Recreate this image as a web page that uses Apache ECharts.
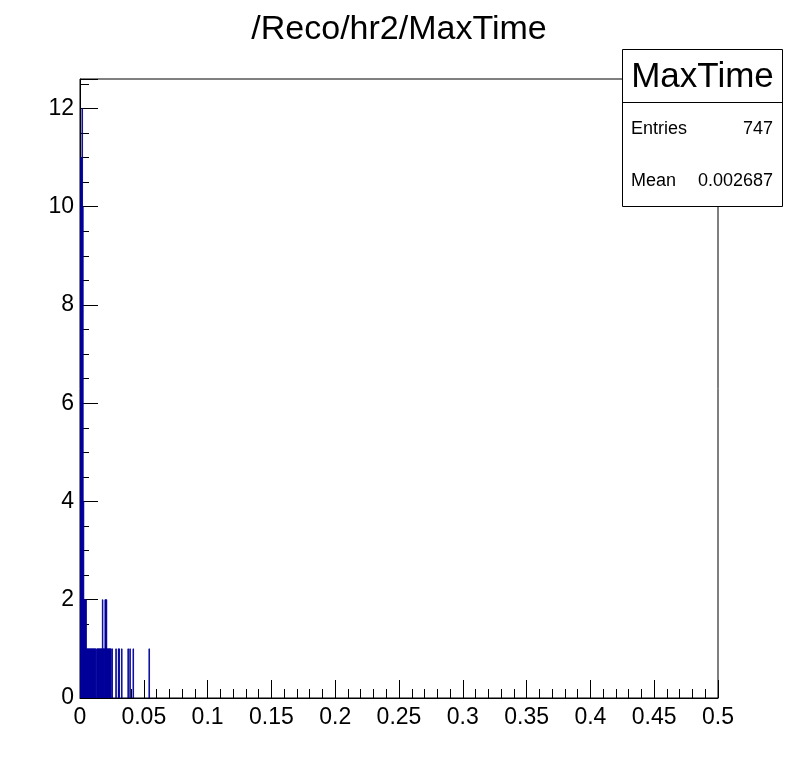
<!DOCTYPE html>
<html>
<head>
<meta charset="utf-8">
<script src="https://cdn.jsdelivr.net/npm/echarts@6/dist/echarts.min.js"></script>
<style>
html,body{margin:0;padding:0;background:#fff;}
#chart{width:798px;height:776px;}
</style>
</head>
<body>
<div id="chart"></div>
<script>
// ---- data ----
const titleText = '/Reco/hr2/MaxTime';
const histName = 'MaxTime';
const statLabels = ['Entries', 'Mean'];
const statValues = ['747', '0.002687'];
const binWidth = 0.0005;          // histogram bin width (x units)
// non-empty bins: index (from x = 0) and count
const binIndex = [0, 1, 2, 3, 4, 5, 6, 7, 8, 9,
  10, 11, 12, 13, 14, 15, 16, 17, 18, 19, 20, 21, 22, 23, 24,
  26, 27, 28, 29, 30, 31, 32, 33, 34, 35, 36, 37, 38, 39, 40, 41,
  42, 43, 44, 45, 46, 47, 48, 50, 56, 60, 61, 65, 75, 78, 83, 108];
const binCount = [10, 11, 11, 12, 10, 4, 2, 2, 2, 2,
  1, 1, 1, 1, 1, 1, 1, 1, 1, 1, 1, 1, 1, 1, 1,
  1, 1, 1, 1, 1, 1, 1, 1, 1, 2, 1, 1, 1, 2, 2, 2,
  1, 1, 1, 1, 1, 1, 1, 1, 1, 1, 1, 1, 1, 1, 1, 1];
const xMin = 0, xMax = 0.5, xStep = 0.05;
const yMin = 0, yMax = 12.6, yStep = 2, yMinorStep = 0.5;

// ---- build ----
const histData = binIndex.map((b, i) => [b * binWidth, (b + 1) * binWidth, binCount[i]]);
const FONT = 'Liberation Sans, Arial, Helvetica, sans-serif';
const BLUE = '#000099';

const chart = echarts.init(document.getElementById('chart'), null, {renderer: 'canvas'});

const gridL = 80, gridR = 80, gridT = 79, gridB = 78;
const boxX = 622.5, boxY = 49.5, boxW = 160, boxH = 157, sepY = 102.5;

chart.setOption({
  animation: false,
  backgroundColor: '#fff',
  title: {
    text: titleText, left: 'center', top: 8,
    textStyle: {fontFamily: FONT, fontSize: 34, fontWeight: 'normal', color: '#000'}
  },
  grid: {left: gridL, right: gridR, top: gridT, bottom: gridB, show: true,
         borderColor: '#000', borderWidth: 1, backgroundColor: 'transparent'},
  xAxis: {
    type: 'value', min: xMin, max: xMax, interval: xStep,
    axisLine: {show: true, lineStyle: {color: '#000', width: 1}},
    axisTick: {show: true, inside: true, length: 18, lineStyle: {color: '#000'}},
    minorTick: {show: true, splitNumber: 5, length: 9, lineStyle: {color: '#000'}},
    splitLine: {show: false},
    axisLabel: {fontFamily: FONT, fontSize: 23, color: '#000', margin: 8,
      formatter: v => String(Math.round(v * 1000) / 1000)}
  },
  yAxis: [{
    type: 'value', min: yMin, max: yMax, interval: yMinorStep, position: 'left',
    axisLine: {show: true, lineStyle: {color: '#000', width: 1}},
    axisTick: {show: true, inside: true, length: 9, lineStyle: {color: '#000'}},
    axisLabel: {show: false},
    splitLine: {show: false}
  }, {
    type: 'value', min: yMin, max: yMax, interval: yStep, position: 'left', offset: 0,
    axisLine: {show: false},
    axisTick: {show: true, inside: true, length: 18, lineStyle: {color: '#000'}},
    axisLabel: {fontFamily: FONT, fontSize: 23, color: '#000', margin: 6,
      formatter: v => (Math.abs(v / yStep - Math.round(v / yStep)) < 1e-9 ? String(v) : '')},
    splitLine: {show: false}
  }],
  series: [{
    type: 'custom',
    xAxisIndex: 0, yAxisIndex: 0,
    data: histData,
    clip: true,
    renderItem: (params, api) => {
      const lo = api.value(0), hi = api.value(1), n = api.value(2);
      const p0 = api.coord([lo, n]);
      const p1 = api.coord([hi, 0]);
      return {
        type: 'rect',
        shape: {x: p0[0], y: p0[1], width: p1[0] - p0[0], height: p1[1] - p0[1]},
        style: {fill: BLUE, stroke: BLUE, lineWidth: 0.8}
      };
    }
  }],
  graphic: [
    {type: 'rect', z: 100, shape: {x: boxX, y: boxY, width: boxW, height: boxH},
     style: {fill: '#fff', stroke: '#000', lineWidth: 1}},
    {type: 'line', z: 101, shape: {x1: boxX, y1: sepY, x2: boxX + boxW, y2: sepY},
     style: {stroke: '#000', lineWidth: 1}},
    {type: 'text', z: 101, x: boxX + boxW / 2, y: 77,
     style: {text: histName, fontFamily: FONT, fontSize: 35, fill: '#000', align: 'center', verticalAlign: 'middle'}},
    {type: 'text', z: 101, x: 631, y: 129,
     style: {text: statLabels[0], fontFamily: FONT, fontSize: 18, fill: '#000', align: 'left', verticalAlign: 'middle'}},
    {type: 'text', z: 101, x: 773, y: 129,
     style: {text: statValues[0], fontFamily: FONT, fontSize: 18, fill: '#000', align: 'right', verticalAlign: 'middle'}},
    {type: 'text', z: 101, x: 631, y: 181,
     style: {text: statLabels[1], fontFamily: FONT, fontSize: 18, fill: '#000', align: 'left', verticalAlign: 'middle'}},
    {type: 'text', z: 101, x: 773, y: 181,
     style: {text: statValues[1], fontFamily: FONT, fontSize: 18, fill: '#000', align: 'right', verticalAlign: 'middle'}}
  ]
});
</script>
</body>
</html>
